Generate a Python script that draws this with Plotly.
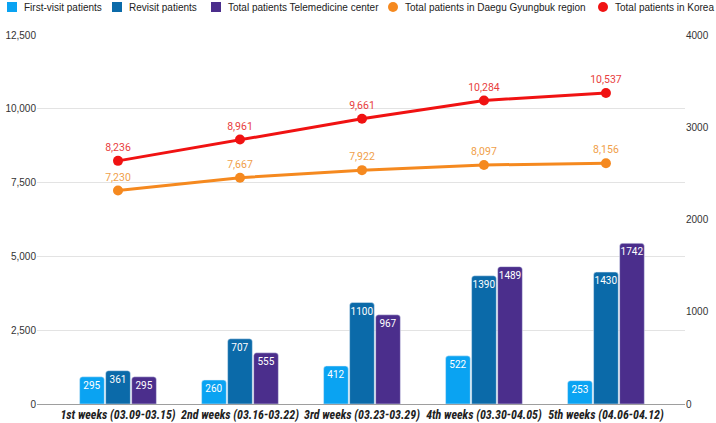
import plotly.graph_objects as go

weeks = ["1st weeks (03.09-03.15)", "2nd weeks (03.16-03.22)", "3rd weeks (03.23-03.29)",
         "4th weeks (03.30-04.05)", "5th weeks (04.06-04.12)"]
first_visit = [295, 260, 412, 522, 253]
revisit = [361, 707, 1100, 1390, 1430]
total_tele = [295, 555, 967, 1489, 1742]
daegu = [7230, 7667, 7922, 8097, 8156]
korea = [8236, 8961, 9661, 10284, 10537]

left_ticks = [0, 2500, 5000, 7500, 10000, 12500]
right_ticks = [0, 1000, 2000, 3000, 4000]

bar_names = ["First-visit patients", "Revisit patients", "Total patients Telemedicine center"]
bar_colors = ["#0aa3f2", "#0b6aa9", "#4b2e8c"]
line_names = ["Total patients in Daegu Gyungbuk region", "Total patients in Korea"]
line_colors = ["#f5891f", "#f01212"]
line_label_colors = ["#f0a04a", "#e84040"]

fig = go.Figure()

for name, vals, col in zip(bar_names, [first_visit, revisit, total_tele], bar_colors):
    fig.add_trace(go.Bar(
        x=weeks, y=vals, name=name, marker_color=col, yaxis="y2",
        text=[str(v) for v in vals], textposition="inside", insidetextanchor="end",
        constraintext="none", textangle=0,
        textfont=dict(family="Roboto", size=10, color="white"),
        showlegend=False, hoverinfo="x+y+name"))

for name, vals, col, lcol in zip(line_names, [daegu, korea], line_colors, line_label_colors):
    fig.add_trace(go.Scatter(
        x=weeks, y=vals, name=name, mode="lines+markers+text",
        line=dict(color=col, width=3), marker=dict(color=col, size=10),
        text=[f"{v:,}" for v in vals], textposition="top center",
        textfont=dict(family="Roboto", size=10.5, color=lcol),
        showlegend=False, cliponaxis=False))

# manual legend (compact spacing like the reference)
px_left, px_right, px_top, px_bottom = 37, 685, 35, 404
def px2x(p):
    return (p - px_left) / (px_right - px_left)
def py2y(p):
    return (px_bottom - p) / (px_bottom - px_top)

legend_names = bar_names + line_names
legend_colors = bar_colors + line_colors
legend_types = ["rect", "rect", "rect", "circle", "circle"]
marker_px = [12, 117, 216, 393, 603]
ly = py2y(7)
shapes = []
annotations = []
for nm, col, tp, mx in zip(legend_names, legend_colors, legend_types, marker_px):
    shapes.append(dict(type=tp, xref="paper", yref="paper", xsizemode="pixel", ysizemode="pixel",
                       xanchor=px2x(mx), yanchor=ly, x0=-5, x1=5, y0=-5, y1=5,
                       fillcolor=col, line=dict(width=0)))
    annotations.append(dict(text=nm, xref="paper", yref="paper", x=px2x(mx + 10), y=ly,
                            xanchor="left", yanchor="middle", showarrow=False,
                            font=dict(family="Liberation Sans, Arial", size=10, color="#222")))

fig.update_layout(
    width=716, height=423,
    margin=dict(l=37, r=31, t=35, b=19),
    paper_bgcolor="white", plot_bgcolor="white",
    barmode="group", bargap=0.36, bargroupgap=0.05, barcornerradius=3,
    showlegend=False,
    shapes=shapes, annotations=annotations,
    xaxis=dict(range=[-0.664, 4.648], showgrid=False, showline=True, linecolor="#9e9e9e",
               linewidth=1, ticks="", tickangle=0, automargin=False,
               tickfont=dict(family="Liberation Sans Narrow, Roboto Condensed, Roboto", size=12,
                             color="#222", weight="bold", style="italic")),
    yaxis=dict(range=[0, 12500], tickvals=left_ticks, tickformat=",", showgrid=True,
               gridcolor="#e3e3e3", zeroline=False, showline=False, ticks="", automargin=False,
               tickfont=dict(family="Liberation Sans, Arial", size=10, color="#333")),
    yaxis2=dict(range=[0, 4000], tickvals=right_ticks, overlaying="y", side="right",
                showgrid=False, zeroline=False, showline=False, ticks="", automargin=False,
                tickfont=dict(family="Liberation Sans, Arial", size=10, color="#333")),
)

fig.write_html("out.html", config={"displayModeBar": False},
               post_script="document.body.style.margin='0';document.body.style.overflow='hidden';")
